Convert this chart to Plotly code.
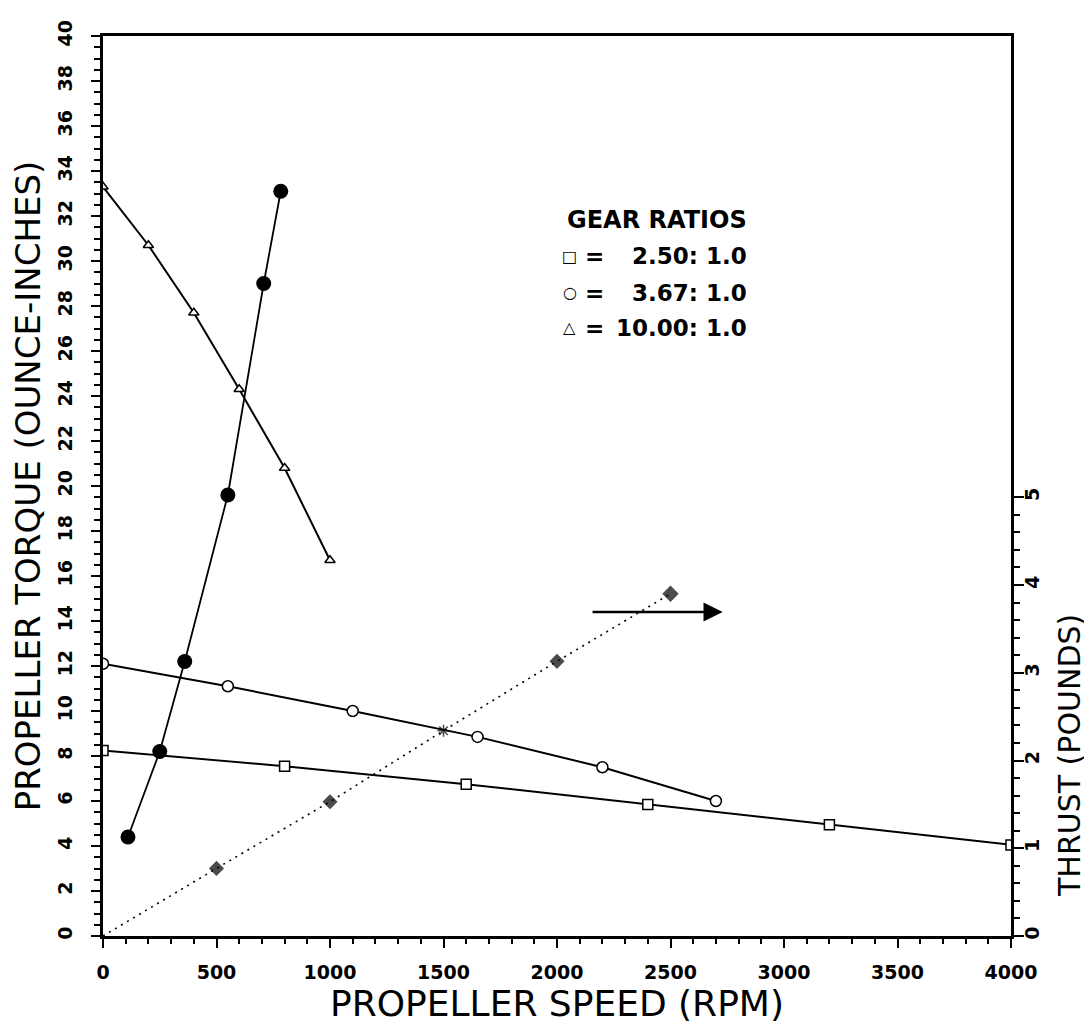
import plotly.graph_objects as go

# ---------------- data ----------------
rpm_250 = [0, 800, 1600, 2400, 3200, 4000]
torque_250 = [8.25, 7.55, 6.75, 5.85, 4.95, 4.05]

rpm_367 = [0, 550, 1100, 1650, 2200, 2700]
torque_367 = [12.1, 11.1, 10.0, 8.85, 7.5, 6.0]

rpm_1000 = [0, 200, 400, 600, 800, 1000]
torque_1000 = [33.3, 30.7, 27.7, 24.3, 20.8, 16.7]

rpm_solid = [110, 250, 360, 550, 708, 783]
torque_solid = [4.4, 8.2, 12.2, 19.6, 29.0, 33.1]

rpm_thrust = [0, 500, 1000, 1500, 2000, 2500]
thrust_lb = [0, 0.77, 1.53, 2.34, 3.13, 3.9]
thrust_symbols = ["diamond", "diamond", "diamond", "asterisk-open", "diamond", "diamond"]
thrust_sizes = [0, 10, 10, 10, 10, 11]

arrow_rpm = [2150, 2730]
arrow_torque = 14.4

legend_title = "GEAR RATIOS"
legend_symbols = ["\u25A1", "\u25CB", "\u25B3"]
legend_labels = ["2.50: 1.0", "3.67: 1.0", "10.00: 1.0"]

x_ticks = list(range(0, 4001, 500))
y_ticks = list(range(0, 41, 2))
y2_ticks = [0, 1, 2, 3, 4, 5]
thrust_per_torque = 3.9  # torque units per pound on the shared scale

# ---------------- figure ----------------
BLACK = "black"
TICKFONT = dict(family="DejaVu Sans", size=19, color=BLACK, weight="bold")
TITLEFONT = dict(family="DejaVu Sans", size=34, color=BLACK)

fig = go.Figure()

fig.add_trace(go.Scatter(
    x=rpm_thrust, y=thrust_lb, yaxis="y2", mode="lines+markers",
    line=dict(color=BLACK, width=1.6, dash="2px,5px"),
    marker=dict(symbol=thrust_symbols, size=thrust_sizes, color=BLACK,
                line=dict(color=BLACK, width=1.5)),
    showlegend=False))

fig.add_trace(go.Scatter(
    x=rpm_250, y=torque_250, mode="lines+markers",
    line=dict(color=BLACK, width=2),
    marker=dict(symbol="square", size=10, color="white", line=dict(color=BLACK, width=1.5)),
    showlegend=False))

fig.add_trace(go.Scatter(
    x=rpm_367, y=torque_367, mode="lines+markers",
    line=dict(color=BLACK, width=2),
    marker=dict(symbol="circle", size=11, color="white", line=dict(color=BLACK, width=1.5)),
    showlegend=False))

fig.add_trace(go.Scatter(
    x=rpm_1000, y=torque_1000, mode="lines+markers",
    line=dict(color=BLACK, width=2),
    marker=dict(symbol="triangle-up", size=9, color="white", line=dict(color=BLACK, width=1.5)),
    showlegend=False))

fig.add_trace(go.Scatter(
    x=rpm_solid, y=torque_solid, mode="lines+markers",
    line=dict(color=BLACK, width=1.8),
    marker=dict(symbol="circle", size=15, color=BLACK),
    showlegend=False))

# arrow pointing to the thrust axis
fig.add_annotation(x=arrow_rpm[1], y=arrow_torque, ax=arrow_rpm[0], ay=arrow_torque,
                   xref="x", yref="y", axref="x", ayref="y", text="",
                   showarrow=True, arrowhead=2, arrowsize=1.6, arrowwidth=2.4,
                   arrowcolor=BLACK)

# legend block
LEG_FONT = dict(family="DejaVu Sans", size=23, color=BLACK, weight="bold")
fig.add_annotation(x=0.509, y=0.796, xref="paper", yref="paper", text=legend_title,
                   showarrow=False, xanchor="left", yanchor="middle",
                   font=dict(family="DejaVu Sans", size=24, color=BLACK, weight="bold"))
row_y = [0.7555, 0.7146, 0.676]
for sym, lab, yy in zip(legend_symbols, legend_labels, row_y):
    fig.add_annotation(x=0.514, y=yy, xref="paper", yref="paper", text=sym,
                       showarrow=False, xanchor="center", yanchor="middle",
                       font=dict(family="DejaVu Sans", size=16, color=BLACK))
    fig.add_annotation(x=0.541, y=yy, xref="paper", yref="paper", text="=",
                       showarrow=False, xanchor="center", yanchor="middle", font=LEG_FONT)
    fig.add_annotation(x=0.712, y=yy, xref="paper", yref="paper", text=lab,
                       showarrow=False, xanchor="right", yanchor="middle", font=LEG_FONT)

# right axis title (centred on the labelled part of the thrust axis)
fig.add_annotation(x=1, y=0.2, xref="paper", yref="paper", text="THRUST (POUNDS)",
                   textangle=-90, showarrow=False, xanchor="center", yanchor="middle",
                   xshift=58, font=dict(family="DejaVu Sans", size=30, color=BLACK))

minor_y2 = [round(i * 0.2, 2) for i in range(0, 26) if i % 5 != 0]

fig.update_layout(
    width=1092, height=1029,
    margin=dict(l=95, r=89, t=24, b=101),
    paper_bgcolor="white", plot_bgcolor="white",
    showlegend=False,
    xaxis=dict(
        range=[0, 4000], tickmode="array", tickvals=x_ticks,
        ticks="outside", ticklen=9, tickwidth=2, tickcolor=BLACK,
        minor=dict(dtick=100, ticks="outside", ticklen=5, tickwidth=1.5, tickcolor=BLACK),
        showline=True, linecolor=BLACK, linewidth=2.5, mirror=True,
        showgrid=False, zeroline=False, tickfont=TICKFONT, ticklabelstandoff=8,
        title=dict(text="PROPELLER SPEED (RPM)",
                   font=dict(family="DejaVu Sans", size=36, color=BLACK), standoff=8),
    ),
    yaxis=dict(
        range=[0, 40], tickmode="array", tickvals=y_ticks,
        ticks="outside", ticklen=9, tickwidth=2, tickcolor=BLACK,
        minor=dict(dtick=0.5, ticks="outside", ticklen=6, tickwidth=1.5, tickcolor=BLACK),
        showline=True, linecolor=BLACK, linewidth=2.5,
        showgrid=False, zeroline=False, tickfont=TICKFONT, tickangle=-90,
        ticklabelstandoff=12,
        title=dict(text="PROPELLER TORQUE (OUNCE-INCHES)", font=TITLEFONT, standoff=8),
    ),
    yaxis2=dict(
        overlaying="y", side="right", range=[0, 40 / thrust_per_torque],
        tickmode="array", tickvals=y2_ticks,
        ticks="outside", ticklen=10, tickwidth=2, tickcolor=BLACK,
        minor=dict(tickmode="array", tickvals=minor_y2, ticks="outside", ticklen=6,
                   tickwidth=1.5, tickcolor=BLACK),
        showline=True, linecolor=BLACK, linewidth=2.5,
        showgrid=False, zeroline=False, tickfont=TICKFONT, tickangle=-90,
        ticklabelstandoff=-8,
    ),
)

fig.write_html("out.html")
